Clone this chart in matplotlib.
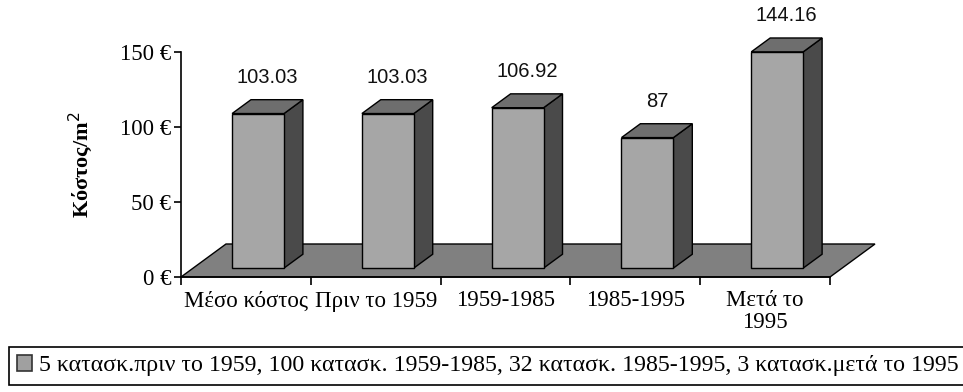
import matplotlib
matplotlib.use("Agg")
import matplotlib.pyplot as plt
from matplotlib.patches import Polygon, Patch

# Cost per square metre by construction period
categories = ["Μέσο κόστος", "Πριν το 1959", "1959-1985", "1985-1995", "Μετά το\n1995"]
values = [103.03, 103.03, 106.92, 87, 144.16]
value_labels = ["103.03", "103.03", "106.92", "87", "144.16"]
yticks = [0, 50, 100, 150]
ytick_labels = ["0 €", "50 €", "100 €", "150 €"]
legend_text = ("5 κατασκ.πριν το 1959, 100 κατασκ. 1959-1985, "
               "32 κατασκ. 1985-1995, 3 κατασκ.μετά το 1995")

SERIF = ["Liberation Serif", "DejaVu Serif"]
SANS = ["Liberation Sans", "DejaVu Sans"]

W, H = 963, 392
fig = plt.figure(figsize=(W / 100, H / 100), dpi=100)

# Axes so that the front plane spans x 0..5 and y 0..150
x0, x1 = 181, 830
y0, y150 = 277, 52
ax = fig.add_axes([x0 / W, 1 - y0 / H, (x1 - x0) / W, (y0 - y150) / H])
ax.set_xlim(0, len(categories))
ax.set_ylim(0, 150)
ax.set_clip_on(False)
for s in ax.spines.values():
    s.set_visible(False)

# Oblique depth of the 3D floor in data units
px_x = len(categories) / (x1 - x0)
px_y = 150 / (y0 - y150)
DX = 45 * px_x
DY = 33 * px_y
n = len(categories)

def off(f):
    return f * DX, f * DY

# Floor
fx, fy = off(1.0)
ax.add_patch(Polygon([(0, 0), (n, 0), (n + fx, fy), (fx, fy)], closed=True,
                     facecolor="#808080", edgecolor="black", lw=1.0,
                     clip_on=False, zorder=1))

# Bars
f0, f1 = 0.27, 0.69
bw = 0.4
face_c, top_c, side_c = "#a6a6a6", "#6e6e6e", "#4a4a4a"
for i, v in enumerate(values):
    ox, oy = off(f0)
    bx, by = off(f1)
    l = i + 0.5 - bw / 2 + ox
    r = i + 0.5 + bw / 2 + ox
    b = oy
    t = oy + v
    ddx, ddy = bx - ox, by - oy
    ax.add_patch(Polygon([(r, b), (r + ddx, b + ddy), (r + ddx, t + ddy), (r, t)],
                         closed=True, facecolor=side_c, edgecolor="black", lw=1.0,
                         clip_on=False, zorder=3))
    ax.add_patch(Polygon([(l, t), (r, t), (r + ddx, t + ddy), (l + ddx, t + ddy)],
                         closed=True, facecolor=top_c, edgecolor="black", lw=1.0,
                         clip_on=False, zorder=3))
    ax.add_patch(Polygon([(l, b), (r, b), (r, t), (l, t)], closed=True,
                         facecolor=face_c, edgecolor="black", lw=1.0,
                         clip_on=False, zorder=4))
    ax.text((l + r + ddx) / 2, t + ddy + 15, value_labels[i], ha="center",
            va="center", fontsize=14.5, family=SANS, color="#111111", zorder=5)

# Axis lines and ticks
ax.plot([0, 0], [0, 150], color="black", lw=1.2, clip_on=False, zorder=6)
ax.plot([0, n], [0, 0], color="black", lw=1.2, clip_on=False, zorder=6)
ax.set_yticks(yticks)
ax.set_yticklabels(ytick_labels, family=SERIF, fontsize=16.5)
ax.tick_params(axis="y", length=5, width=1.2, pad=2, direction="out")
ax.set_xticks(range(n + 1))
ax.set_xticklabels([])
ax.tick_params(axis="x", length=6, width=1.2, direction="out")
for i, c in enumerate(categories):
    ax.text(i + 0.5, -9, c, ha="center", va="top", fontsize=16.5,
            family=SERIF, linespacing=1.0)

ax.text(-0.77, 75, "Κόστος/m$^2$", rotation=90, ha="center", va="center",
        fontsize=16, fontweight="bold", family=SERIF)

# Legend
handle = Patch(facecolor="#a0a0a0", edgecolor="#333333", lw=1.2)
leg = fig.legend([handle], [legend_text], loc="upper left",
                 bbox_to_anchor=(9 / W, 1 - 347 / H), frameon=True,
                 fancybox=False, edgecolor="black", framealpha=1,
                 handlelength=0.6, handleheight=0.6, handletextpad=0.3,
                 borderpad=0.35, borderaxespad=0,
                 prop={"family": SERIF, "size": 17.2})
leg.get_frame().set_linewidth(1.2)

fig.savefig("out.png", dpi=100)
